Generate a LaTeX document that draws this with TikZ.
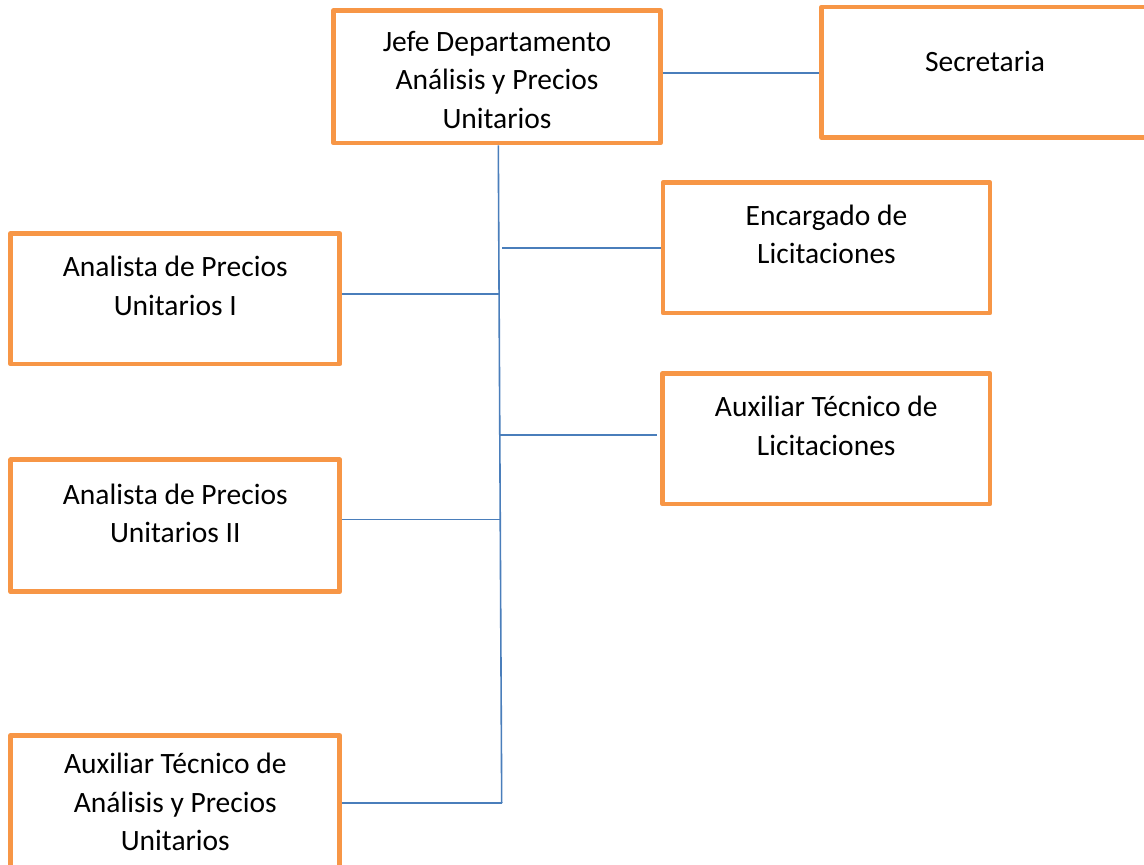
\documentclass[tikz,border=0pt]{standalone}
\usepackage{fontspec}
\setmainfont{Carlito}
\definecolor{boxorange}{HTML}{F79646}
\definecolor{lineblue}{HTML}{4A7EBB}
\begin{document}
\begin{tikzpicture}[x=1pt,y=-1pt,
  orgbox/.style={draw=boxorange,line width=4.8pt,line join=round,fill=white,inner sep=0pt,minimum width=327pt,minimum height=130.5pt},
  boxtext/.style={anchor=north,inner sep=0pt,align=center,font={\fontsize{29.5}{38.5}\selectfont}},
  conn/.style={draw=lineblue,line width=1.6pt}]
\clip (0,0) rectangle (1144,865);
\fill[white] (0,0) rectangle (1144,865);
% boxes
\node[orgbox,minimum height=132.5pt] (jefe) at (497,76.75) {};
\node[orgbox] (sec) at (985,72.25) {};
\node[orgbox] (enc) at (826.5,247.75) {};
\node[orgbox,minimum width=327.5pt] (auxl) at (826.25,438.75) {};
\node[orgbox,minimum width=329pt] (an1) at (175.3,298.75) {};
\node[orgbox,minimum width=329pt,minimum height=132pt] (an2) at (175.3,525.8) {};
\node[orgbox,minimum width=329pt,minimum height=140pt] (auxa) at (175.3,805.5) {};
% texts
\node[boxtext] (tjefe) at (497,24) {\rule{0pt}{27pt}Jefe Departamento\\Análisis y Precios\\Unitarios};
\node[boxtext] (tsec) at (985,44) {\rule{0pt}{27pt}Secretaria};
\node[boxtext] (tenc) at (826.5,198) {\rule{0pt}{27pt}Encargado de\\Licitaciones};
\node[boxtext] (tauxl) at (826.25,389.7) {\rule{0pt}{27pt}Auxiliar Técnico de\\Licitaciones};
\node[boxtext] (tan1) at (175.3,249.7) {\rule{0pt}{27pt}Analista de Precios\\Unitarios I};
\node[boxtext] (tan2) at (175.3,477) {\rule{0pt}{27pt}Analista de Precios\\Unitarios II};
\node[boxtext] (tauxa) at (175.3,746.3) {\rule{0pt}{27pt}Auxiliar Técnico de\\Análisis y Precios\\Unitarios};
% connectors
\coordinate (tbot) at (501.7,803);
\coordinate (encstart) at (502.3,247.7);
\coordinate (auxlend) at (656.7,435);
\path[conn] (jefe.east |- 0,72.7) -- (sec.west |- 0,72.7);
\path[conn] (jefe.south -| 498.3,0) -- (tbot);
\path[conn] (encstart) -- (enc.west |- encstart);
\path[conn] (an1.east |- 0,294) -- (498.8,294);
\path[conn] (498.8,435) -- (auxlend);
\path[conn] (an2.east |- 0,519.3) -- (499.5,519.3);
\path[conn] (auxa.east |- tbot) -- (tbot);
\end{tikzpicture}
\end{document}
